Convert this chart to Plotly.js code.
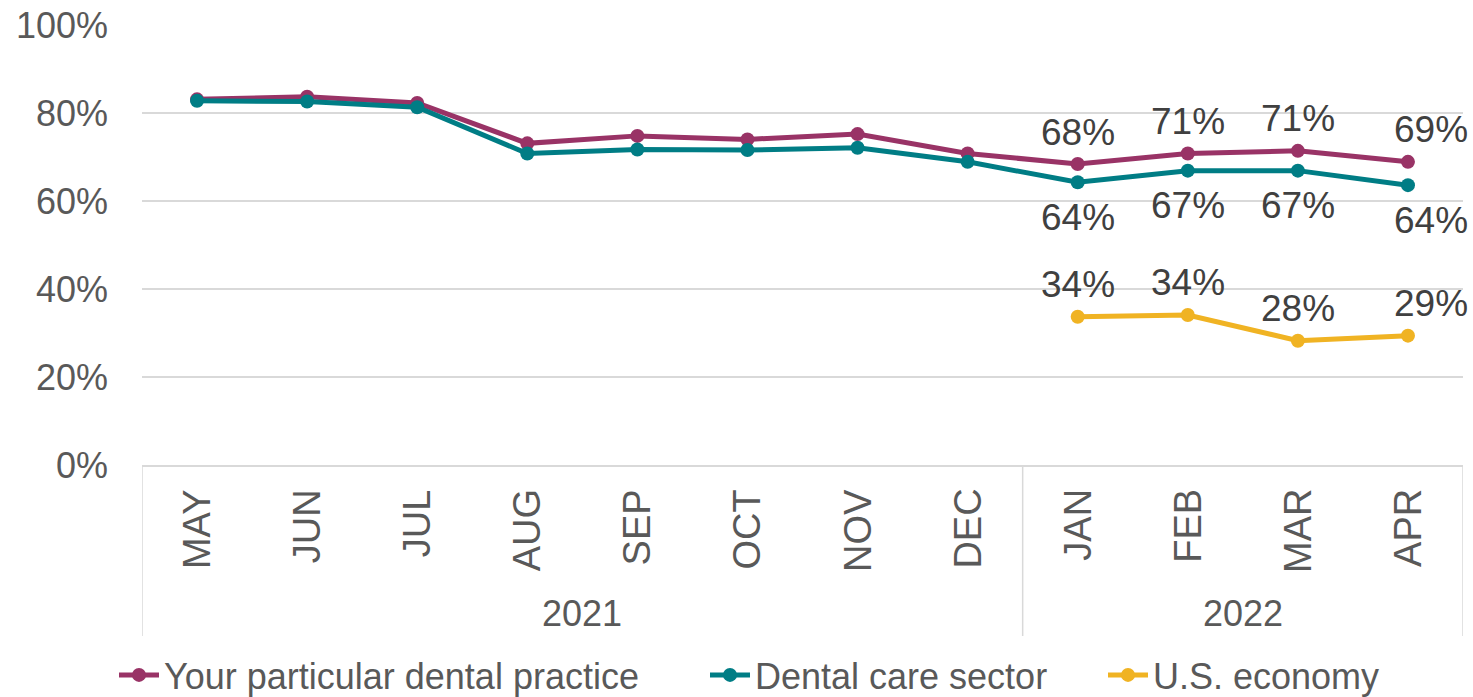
<!DOCTYPE html>
<html>
<head>
<meta charset="utf-8">
<script src="https://cdn.plot.ly/plotly-3.0.1.min.js"></script>
<style>html,body{margin:0;padding:0;background:#fff;}#chart{width:1473px;height:697px;}</style>
</head>
<body>
<div id="chart"></div>
<script>
// ---- data ----
const months = ["MAY","JUN","JUL","AUG","SEP","OCT","NOV","DEC","JAN","FEB","MAR","APR"];
const years = ["2021","2022"];
const yearCounts = [8, 4];
const practice = [83.1, 83.7, 82.3, 73.1, 74.8, 74.0, 75.2, 70.8, 68.4, 70.8, 71.4, 68.9];
const sector   = [82.8, 82.6, 81.3, 70.8, 71.7, 71.6, 72.1, 68.9, 64.25, 66.9, 66.9, 63.6];
const economy  = [null, null, null, null, null, null, null, null, 33.7, 34.1, 28.25, 29.4];
const seriesNames = ["Your particular dental practice", "Dental care sector", "U.S. economy"];
const labelFrom = 8; // data labels shown from JAN 2022 on

// ---- styles ----
const colors = ["#993366", "#007D85", "#F0B323"];
const FONT = "Liberation Sans, Arial, sans-serif";
const labelColor = "#404040";
const tickColor = "#595959";
const gridColor = "#D9D9D9";
const ML = 142, MR = 10, MT = 25, MB = 232, W = 1473, H = 697;
const plotW = W - ML - MR, plotH = H - MT - MB;
const px2paperY = p => -p / plotH;          // pixels below plot bottom
const px2paperX = p => (p - ML) / plotW;    // absolute x pixel
const legendLeft = [114, 705, 1103];        // legend box positions (px)
const legendIds = ["legend", "legend2", "legend3"];

const xIdx = months.map((m, i) => i);
const allSeries = [practice, sector, economy];

const traces = allSeries.map((vals, s) => ({
  type: "scatter",
  mode: "lines+markers",
  x: xIdx,
  y: vals,
  name: seriesNames[s],
  legend: legendIds[s],
  line: {color: colors[s], width: 5},
  marker: {color: colors[s], size: 14},
  connectgaps: false,
  hoverinfo: "skip"
}));

const annotations = [];
const shapes = [];

// month tick labels
months.forEach((m, i) => {
  annotations.push({
    x: i, xref: "x", y: px2paperY(22), yref: "paper",
    text: m, showarrow: false, textangle: -90,
    xanchor: "center", yanchor: "top",
    font: {family: FONT, size: 38, color: tickColor}
  });
});

// year group labels and dividers
let start = 0;
const bounds = [-0.5];
years.forEach((yr, g) => {
  const end = start + yearCounts[g];
  annotations.push({
    x: (start + end - 1) / 2, xref: "x", y: px2paperY(148), yref: "paper",
    text: yr, showarrow: false, xanchor: "center", yanchor: "middle",
    font: {family: FONT, size: 36, color: tickColor}
  });
  bounds.push(end - 0.5);
  start = end;
});
bounds.forEach(b => {
  shapes.push({
    type: "line", xref: "x", yref: "paper",
    x0: b, x1: b, y0: 0, y1: px2paperY(171),
    line: {color: gridColor, width: 1.5}
  });
});

// data labels
const labelPos = [1, -1, 1];
allSeries.forEach((vals, s) => {
  vals.forEach((v, i) => {
    if (i < labelFrom || v === null) return;
    annotations.push({
      x: i, xref: "x", y: v, yref: "y",
      text: Math.round(v) + "%", showarrow: false,
      xanchor: "center", yanchor: "middle",
      yshift: labelPos[s] > 0 ? 32 : -35,
      xshift: i === months.length - 1 ? 23 : 0,
      font: {family: FONT, size: 37, color: labelColor}
    });
  });
});

const layout = {
  width: W, height: H,
  margin: {l: ML, r: MR, t: MT, b: MB, pad: 0, autoexpand: false},
  paper_bgcolor: "#fff", plot_bgcolor: "#fff",
  font: {family: FONT, color: tickColor},
  showlegend: true,
  xaxis: {
    range: [-0.5, months.length - 0.5],
    showticklabels: false, ticks: "", showgrid: false, zeroline: false,
    showline: true, linecolor: gridColor, linewidth: 1.5, fixedrange: true
  },
  yaxis: {
    range: [0, 100], dtick: 20, ticksuffix: "%", ticks: "",
    showgrid: true, gridcolor: gridColor, gridwidth: 1.5,
    zeroline: false, showline: false, ticklabelstandoff: 33,
    tickfont: {family: FONT, size: 36, color: tickColor}, fixedrange: true
  },
  annotations: annotations,
  shapes: shapes
};
legendIds.forEach((id, s) => {
  layout[id] = {
    orientation: "h", x: px2paperX(legendLeft[s]), xanchor: "left",
    y: px2paperY(210), yanchor: "middle",
    font: {family: FONT, size: 36, color: tickColor},
    itemwidth: 40, bgcolor: "rgba(0,0,0,0)"
  };
});

Plotly.newPlot("chart", traces, layout, {displayModeBar: false, staticPlot: true});
</script>
</body>
</html>
